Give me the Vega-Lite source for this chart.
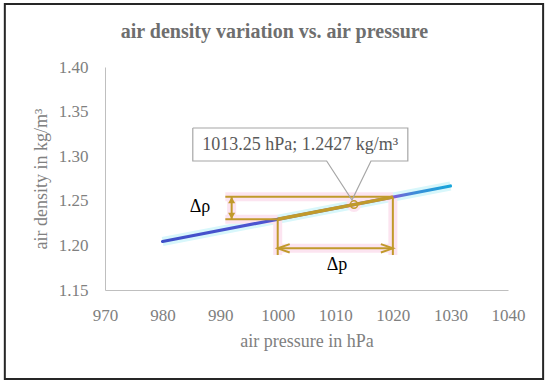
{
  "$schema": "https://vega.github.io/schema/vega-lite/v6.json",
  "width": 403,
  "height": 223,
  "autosize": {"type": "none"},
  "padding": {"left": 105, "top": 67, "right": 42, "bottom": 94},
  "background": "white",
  "config": {"view": {"stroke": null}, "font": "Liberation Serif"},
  "title": {
    "text": "air density variation vs. air pressure",
    "anchor": "middle",
    "frame": "group",
    "dx": -32,
    "offset": 0,
    "dy": 55,
    "baseline": "alphabetic",
    "font": "Liberation Serif",
    "fontSize": 20,
    "fontWeight": "bold",
    "color": "#6E6E6E"
  },
  "datasets": {
    "frame": [{"p": 952.6, "p2": 1046.1, "rho": 1.0502, "rho2": 1.4706}],
    "main": [{"p": 980, "rho": 1.2044}, {"p": 1030, "rho": 1.2666}],
    "seg": [{"p": 1000, "rho": 1.2293}, {"p": 1020, "rho": 1.2541}],
    "rules": [
      {"p": 990.9, "p2": 1020, "rho": 1.2546, "rho2": 1.2546},
      {"p": 990.9, "p2": 1000, "rho": 1.2292, "rho2": 1.2292},
      {"p": 1000, "p2": 1000, "rho": 1.2293, "rho2": 1.1892},
      {"p": 1020, "p2": 1020, "rho": 1.2541, "rho2": 1.1892},
      {"p": 1000, "p2": 1020, "rho": 1.1967, "rho2": 1.1967},
      {"p": 992, "p2": 992, "rho": 1.2292, "rho2": 1.2546}
    ],
    "headL": [{"p": 1001.04, "rho": 1.1967}],
    "headR": [{"p": 1018.96, "rho": 1.1967}],
    "headU": [{"p": 992, "rho": 1.2507}],
    "headD": [{"p": 992, "rho": 1.2331}],
    "pt": [{"p": 1013.25, "rho": 1.2458}],
    "callout": [
      {"p": 985.25, "rho": 1.3316, "o": 1},
      {"p": 1022.6, "rho": 1.3316, "o": 2},
      {"p": 1022.6, "rho": 1.2946, "o": 3},
      {"p": 1016.2, "rho": 1.2946, "o": 4},
      {"p": 1012.9, "rho": 1.2509, "o": 5},
      {"p": 1008.5, "rho": 1.2946, "o": 6},
      {"p": 985.25, "rho": 1.2946, "o": 7},
      {"p": 985.25, "rho": 1.3316, "o": 8}
    ],
    "calloutText": [{"p": 1003.9, "rho": 1.3126, "t": "1013.25 hPa; 1.2427 kg/m³"}],
    "deltas": [
      {"p": 986.5, "rho": 1.243, "t": "Δρ"},
      {"p": 1010.3, "rho": 1.178, "t": "Δp"}
    ]
  },
  "encoding": {
    "x": {
      "field": "p",
      "type": "quantitative",
      "scale": {"domain": [970, 1040], "nice": false, "zero": false},
      "axis": {
        "title": "air pressure in hPa",
        "values": [970, 980, 990, 1000, 1010, 1020, 1030, 1040],
        "format": "d",
        "grid": false,
        "ticks": false,
        "labelFlush": false,
        "labelOverlap": false,
        "domainColor": "#BFBFBF",
        "domainWidth": 1,
        "labelFont": "Liberation Serif",
        "labelFontSize": 17,
        "labelColor": "#808080",
        "labelPadding": 17,
        "titleFont": "Liberation Serif",
        "titleFontSize": 18,
        "titleFontWeight": "normal",
        "titleColor": "#808080",
        "titlePadding": 9
      }
    },
    "y": {
      "field": "rho",
      "type": "quantitative",
      "scale": {"domain": [1.15, 1.4], "nice": false, "zero": false},
      "axis": {
        "title": "air density in kg/m³",
        "values": [1.15, 1.2, 1.25, 1.3, 1.35, 1.4],
        "format": ".2f",
        "grid": false,
        "ticks": false,
        "labelFlush": false,
        "labelOverlap": false,
        "domainColor": "#BFBFBF",
        "domainWidth": 1,
        "labelFont": "Liberation Serif",
        "labelFontSize": 17,
        "labelColor": "#808080",
        "labelPadding": 17,
        "titleFont": "Liberation Serif",
        "titleFontSize": 18,
        "titleFontWeight": "normal",
        "titleColor": "#808080",
        "titlePadding": 8
      }
    }
  },
  "layer": [
    {
      "data": {"name": "frame"},
      "mark": {"type": "rect", "fill": null, "fillOpacity": 0, "stroke": "#262626", "strokeWidth": 2},
      "encoding": {"x2": {"field": "p2"}, "y2": {"field": "rho2"}}
    },
    {
      "data": {"name": "main"},
      "mark": {"type": "line", "stroke": "#D8F7FB", "strokeWidth": 9, "strokeCap": "butt"},
      "encoding": {}
    },
    {
      "data": {"name": "rules"},
      "mark": {"type": "rule", "stroke": "#FCE4F0", "strokeWidth": 9},
      "encoding": {"x2": {"field": "p2"}, "y2": {"field": "rho2"}}
    },
    {
      "data": {"name": "pt"},
      "mark": {"type": "point", "filled": true, "fill": "#FCE4F0", "size": 220, "opacity": 1},
      "encoding": {}
    },
    {
      "data": {"name": "main"},
      "mark": {
        "type": "line",
        "strokeWidth": 3.2,
        "strokeCap": "round",
        "stroke": {
          "gradient": "linear",
          "x1": 0, "y1": 0, "x2": 1, "y2": 0,
          "stops": [
            {"offset": 0, "color": "#3F4FC8"},
            {"offset": 0.5, "color": "#5357D4"},
            {"offset": 0.8, "color": "#7E5CD6"},
            {"offset": 0.88, "color": "#3B8ED8"},
            {"offset": 1, "color": "#17A5DA"}
          ]
        }
      },
      "encoding": {}
    },
    {
      "data": {"name": "seg"},
      "mark": {"type": "line", "stroke": "#C19A2B", "strokeWidth": 3.5},
      "encoding": {}
    },
    {
      "data": {"name": "rules"},
      "mark": {"type": "rule", "stroke": "#C19A2B", "strokeWidth": 2},
      "encoding": {"x2": {"field": "p2"}, "y2": {"field": "rho2"}}
    },
    {
      "data": {"name": "headL"},
      "mark": {"type": "point", "shape": "M1,-0.7L-1,0L1,0.7", "filled": false, "stroke": "#C19A2B", "strokeWidth": 2, "size": 144, "opacity": 1},
      "encoding": {}
    },
    {
      "data": {"name": "headR"},
      "mark": {"type": "point", "shape": "M-1,-0.7L1,0L-1,0.7", "filled": false, "stroke": "#C19A2B", "strokeWidth": 2, "size": 144, "opacity": 1},
      "encoding": {}
    },
    {
      "data": {"name": "headU"},
      "mark": {"type": "point", "shape": "triangle-up", "filled": true, "fill": "#C19A2B", "size": 50, "opacity": 1},
      "encoding": {}
    },
    {
      "data": {"name": "headD"},
      "mark": {"type": "point", "shape": "triangle-down", "filled": true, "fill": "#C19A2B", "size": 50, "opacity": 1},
      "encoding": {}
    },
    {
      "data": {"name": "pt"},
      "mark": {"type": "point", "filled": false, "stroke": "#C19A2B", "strokeWidth": 1.5, "size": 55, "opacity": 1},
      "encoding": {}
    },
    {
      "data": {"name": "callout"},
      "mark": {"type": "line", "stroke": "#A6A6A6", "strokeWidth": 1.2},
      "encoding": {"order": {"field": "o", "type": "quantitative"}}
    },
    {
      "data": {"name": "calloutText"},
      "mark": {"type": "text", "font": "Liberation Serif", "fontSize": 18, "color": "#595959", "align": "center", "baseline": "middle"},
      "encoding": {"text": {"field": "t"}}
    },
    {
      "data": {"name": "deltas"},
      "mark": {"type": "text", "font": "Liberation Serif", "fontSize": 18, "color": "#000000", "align": "center", "baseline": "middle"},
      "encoding": {"text": {"field": "t"}}
    }
  ]
}
